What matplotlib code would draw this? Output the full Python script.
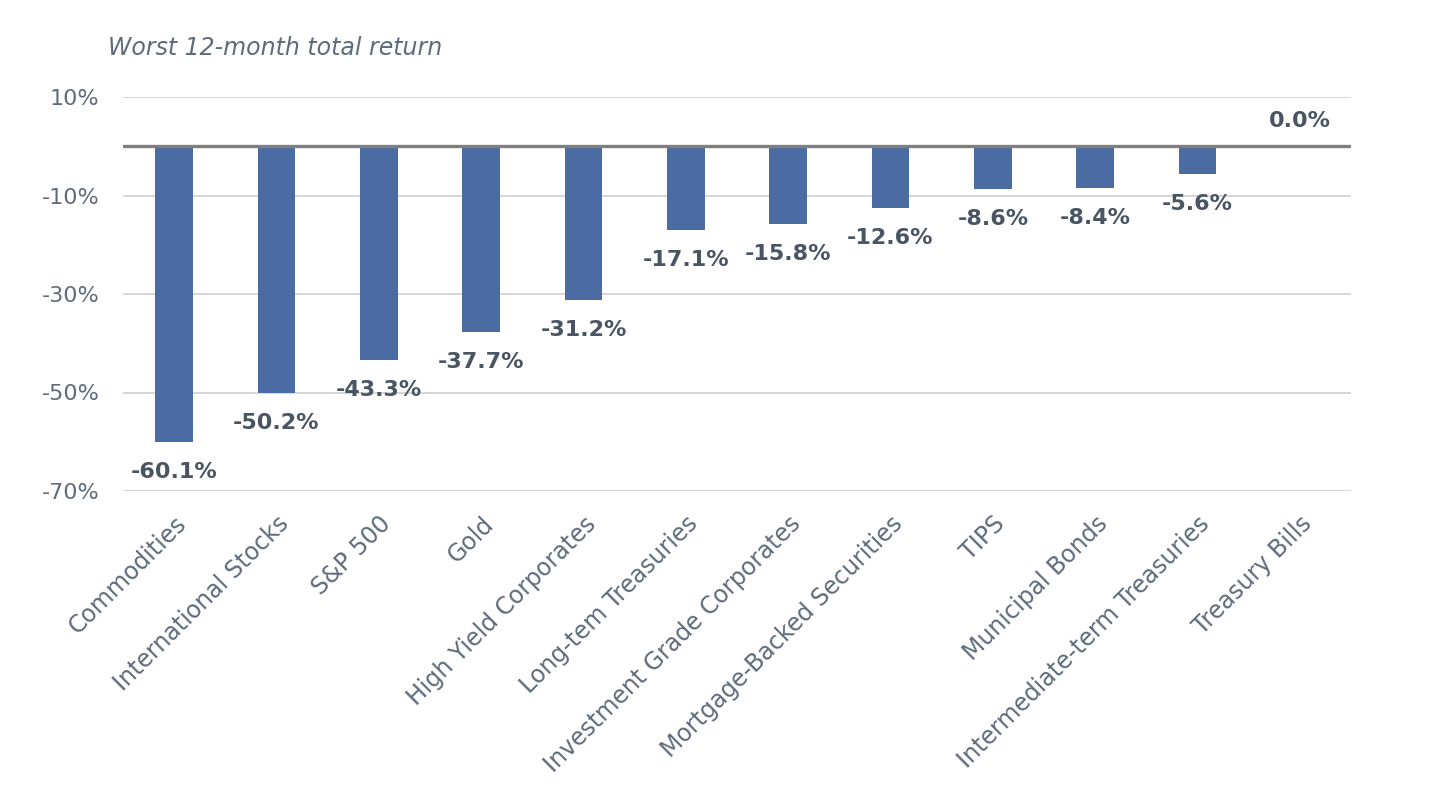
import matplotlib
matplotlib.use("Agg")
import matplotlib.pyplot as plt
import numpy as np

categories = ["Commodities", "International Stocks", "S&P 500", "Gold",
              "High Yield Corporates", "Long-tem Treasuries", "Investment Grade Corporates",
              "Mortgage-Backed Securities", "TIPS", "Municipal Bonds",
              "Intermediate-term Treasuries", "Treasury Bills"]
values = [-60.1, -50.2, -43.3, -37.7, -31.2, -17.1, -15.8, -12.6, -8.6, -8.4, -5.6, 0.0]
yticks = [10, -10, -30, -50, -70]

plt.rcParams['font.family'] = ['DejaVu Sans']
text_col = "#5f6b7a"
label_col = "#4a5462"
bar_col = "#4a6ca3"

fig = plt.figure(figsize=(14.32, 7.96), dpi=100)
ax = fig.add_axes([123/1432, 1-491/796, (1351-123)/1432, (491-97)/796])

x = np.arange(len(categories))
ax.bar(x, values, width=0.37, color=bar_col, zorder=3)
ax.set_xlim(-0.5, len(categories)-0.5)
ax.set_ylim(-70, 10)
ax.set_yticks(yticks)
ax.set_yticklabels([f"{t}%" for t in yticks])
for t in yticks:
    ax.axhline(t, color="#d3d3d3", lw=1.3, zorder=1)
ax.axhline(0, color="#7f7f7f", lw=2.4, zorder=4)

for s in ax.spines.values():
    s.set_visible(False)
ax.tick_params(axis='both', length=0, colors=text_col)
ax.tick_params(axis='y', pad=17, labelsize=16)
ax.set_xticks(x)
ax.set_xticklabels(categories, rotation=45, ha='right', rotation_mode='anchor', fontsize=17)
ax.tick_params(axis='x', pad=15)

for xi, v in zip(x, values):
    if v < 0:
        ax.annotate(f"{v:.1f}%", (xi, v), xytext=(0, -30), textcoords='offset pixels',
                    ha='center', va='center', fontsize=16, fontweight='bold', color=label_col)
    else:
        ax.annotate(f"{v:.1f}%", (xi, v), xytext=(0, 25), textcoords='offset pixels',
                    ha='center', va='center', fontsize=16, fontweight='bold', color=label_col)

fig.text(108/1432, 1-48/796, "Worst 12-month total return", fontsize=17, style='italic',
         color=text_col, ha='left', va='center')

fig.savefig("out.png", dpi=100, facecolor='white')
